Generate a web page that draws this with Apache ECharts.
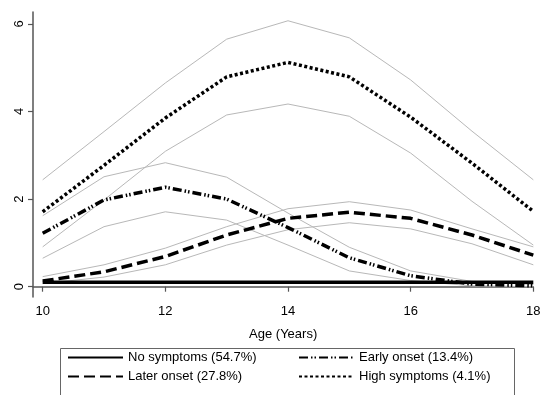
<!DOCTYPE html>
<html>
<head>
<meta charset="utf-8">
<script src="https://cdn.jsdelivr.net/npm/echarts@6/dist/echarts.min.js"></script>
<style>html,body{margin:0;padding:0;background:#fff;}#c{width:556px;height:395px;}</style>
</head>
<body>
<div id="c"></div>
<script>
var ages = [10, 11, 12, 13, 14, 15, 16, 17, 18];
var xTicks = [10, 12, 14, 16, 18];
var yTicks = [0, 2, 4, 6];

var noSymptoms = [0.1, 0.1, 0.1, 0.1, 0.1, 0.1, 0.1, 0.1, 0.1];
var laterOnset = [0.13, 0.34, 0.69, 1.18, 1.56, 1.70, 1.56, 1.18, 0.72];
var laterUpper = [0.23, 0.50, 0.88, 1.37, 1.78, 1.94, 1.75, 1.32, 0.91];
var laterLower = [0.07, 0.22, 0.50, 0.95, 1.30, 1.46, 1.32, 0.98, 0.50];
var earlyOnset = [1.22, 1.98, 2.27, 2.00, 1.35, 0.66, 0.25, 0.06, 0.02];
var earlyUpper = [1.62, 2.51, 2.83, 2.50, 1.68, 0.90, 0.36, 0.12, 0.05];
var earlyLower = [0.65, 1.37, 1.71, 1.52, 0.95, 0.36, 0.14, 0.02, 0.00];
var highSymptoms = [1.71, 2.77, 3.85, 4.79, 5.12, 4.79, 3.87, 2.82, 1.72];
var highUpper = [2.44, 3.54, 4.65, 5.65, 6.07, 5.68, 4.72, 3.55, 2.44];
var highLower = [0.91, 1.98, 3.09, 3.92, 4.17, 3.89, 3.05, 1.95, 0.95];

function pts(v) { return ages.map(function (a, i) { return [a, v[i]]; }); }

var ciStyle = { color: '#b8b8b8', width: 1 };
function ci(v) {
  return { type: 'line', data: pts(v), symbol: 'none', silent: true, z: 1,
           lineStyle: ciStyle, itemStyle: { color: '#b8b8b8' } };
}
function main(name, v, type, w) {
  return { name: name, type: 'line', data: pts(v), symbol: 'none', z: 3,
           lineStyle: { color: '#000', width: w, type: type },
           itemStyle: { color: '#000' } };
}

var font = 'Liberation Sans, Arial, Helvetica, sans-serif';
var legendBase = {
  orient: 'vertical', top: 351, padding: 0, itemWidth: 55, itemHeight: 12, itemGap: 6,
  itemStyle: { opacity: 0, color: 'transparent', borderWidth: 0 },
  textStyle: { color: '#000', fontSize: 13, fontFamily: font }, selectedMode: false
};
var chart = echarts.init(document.getElementById('c'), null, { renderer: 'canvas' });
chart.setOption({
  backgroundColor: '#fff',
  animation: false,
  grid: { left: 33, right: 22.7, top: 12, bottom: 98, containLabel: false },
  xAxis: {
    type: 'value', min: 9.842, max: 18,
    name: 'Age (Years)', nameLocation: 'middle', nameGap: 31,
    nameTextStyle: { color: '#000', fontSize: 13, fontFamily: font },
    axisLine: { show: true, lineStyle: { color: '#555', width: 1.5 } },
    axisTick: { show: true, length: 5, customValues: xTicks, lineStyle: { color: '#555', width: 1.2 } },
    axisLabel: { customValues: xTicks, color: '#000', fontSize: 13, fontFamily: font, margin: 8 },
    splitLine: { show: false }
  },
  yAxis: {
    type: 'value', min: -0.235, max: 6.27,
    axisLine: { show: true, lineStyle: { color: '#555', width: 1.5 } },
    axisTick: { show: true, length: 5, customValues: yTicks, lineStyle: { color: '#555', width: 1.2 } },
    axisLabel: { customValues: yTicks, rotate: 90, color: '#000', fontSize: 13, fontFamily: font, margin: 7 },
    splitLine: { show: false }
  },
  legend: [
    Object.assign({}, legendBase, { left: 67, data: ['No symptoms (54.7%)', 'Later onset (27.8%)'] }),
    Object.assign({}, legendBase, { left: 298, data: ['Early onset (13.4%)', 'High symptoms (4.1%)'] })
  ],
  graphic: [
    { type: 'rect', shape: { x: 60.5, y: 348.5, width: 454, height: 60 },
      style: { fill: 'none', stroke: '#666', lineWidth: 1 }, silent: true }
  ],
  series: [
    ci(laterUpper), ci(laterLower), ci(earlyUpper), ci(earlyLower), ci(highUpper), ci(highLower),
    main('No symptoms (54.7%)', noSymptoms, 'solid', 3.5),
    main('Later onset (27.8%)', laterOnset, [11, 5], 3.5),
    main('Early onset (13.4%)', earlyOnset, [9, 3, 1.5, 2, 1.5, 3], 3.5),
    main('High symptoms (4.1%)', highSymptoms, [3, 2.5], 3.5)
  ]
});
</script>
</body>
</html>
